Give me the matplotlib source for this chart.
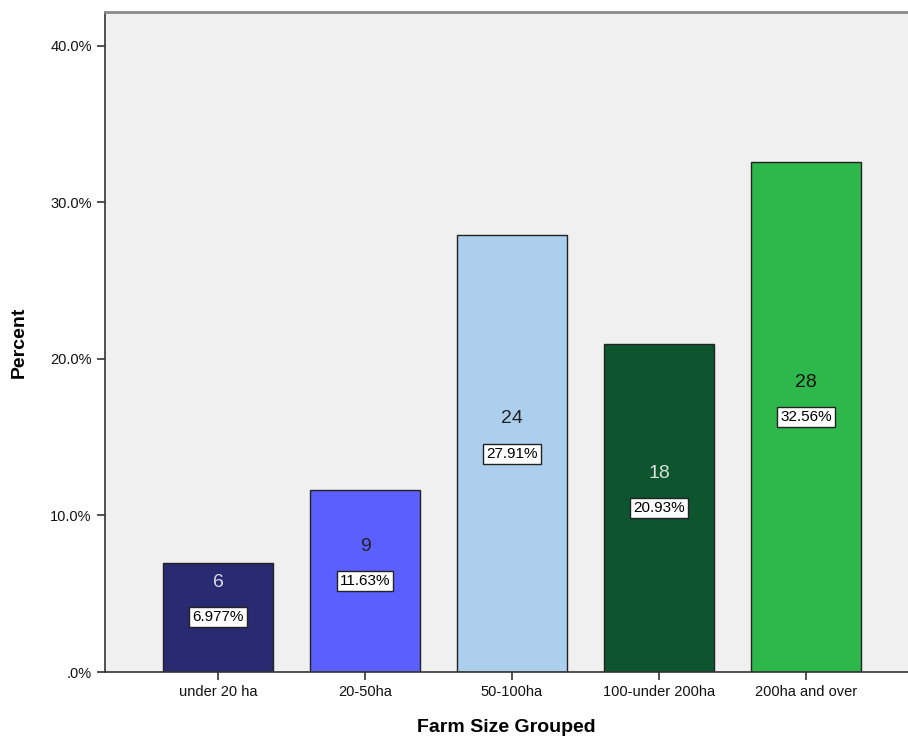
import matplotlib.pyplot as plt
from matplotlib.ticker import FuncFormatter

plt.rcParams['font.family'] = ['Liberation Sans', 'DejaVu Sans']

categories = ['under 20 ha', '20-50ha', '50-100ha', '100-under 200ha', '200ha and over']
percents = [6.977, 11.63, 27.91, 20.93, 32.56]
pct_labels = ['6.977%', '11.63%', '27.91%', '20.93%', '32.56%']
counts = [6, 9, 24, 18, 28]
colors = ['#282A72', '#5B5FFE', '#ACCFEE', '#0C552E', '#2EB74A']
count_colors = ['#D8D8E8', '#222222', '#222222', '#D8E0D8', '#111111']

fig = plt.figure(figsize=(9.08, 7.42), dpi=100)
ax = fig.add_axes([105 / 908, 70 / 742, 803 / 908, 660 / 742])
ax.set_facecolor('#F0F0F0')

x = range(len(categories))
ax.bar(x, percents, width=0.748, color=colors, edgecolor='#222222', linewidth=1.0, zorder=2)

for i, v in enumerate(percents):
    ax.text(i, v / 2, pct_labels[i], ha='center', va='center', fontsize=11, color='black', zorder=3,
            bbox=dict(boxstyle='square,pad=0.2', facecolor='white', edgecolor='#222222', linewidth=1))
    ax.annotate(str(counts[i]), (i, v / 2), xytext=(0, 25), textcoords='offset points',
                ha='center', va='center', fontsize=14, color=count_colors[i], zorder=3)
    
ax.set_xlim(-0.769, 4.694)
ax.set_ylim(0, 42.17)
ax.set_yticks([0, 10, 20, 30, 40])
ax.yaxis.set_major_formatter(FuncFormatter(lambda v, p: '.0%' if v == 0 else '%.1f%%' % v))
ax.set_xticks(list(x))
ax.set_xticklabels(categories)
ax.tick_params(axis='both', labelsize=10.5, length=6, width=1.2, color='#333333', labelcolor='#111111')

ax.spines['right'].set_visible(False)
ax.spines['top'].set_color('#8A8A8A')
ax.spines['top'].set_linewidth(2)
ax.spines['left'].set_color('#333333')
ax.spines['bottom'].set_color('#333333')
ax.spines['left'].set_linewidth(1.2)
ax.spines['bottom'].set_linewidth(1.2)

ax.set_xlabel('Farm Size Grouped', fontsize=14, fontweight='bold', labelpad=14)
ax.set_ylabel('Percent', fontsize=14, fontweight='bold', labelpad=16)

plt.savefig('out.png', dpi=100)
